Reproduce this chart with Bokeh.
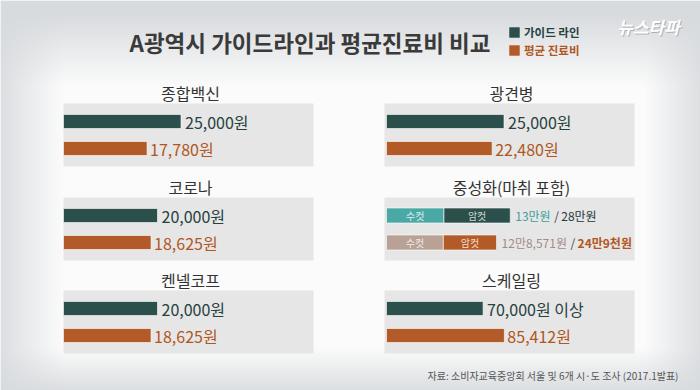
import numpy as np
from bokeh.plotting import figure
from bokeh.models import Range1d, Legend, LegendItem
from bokeh.embed import file_html
from bokeh.resources import INLINE
from bokeh.core.properties import value

# ---------------- data ----------------
TITLE = "A광역시 가이드라인과 평균진료비 비교"
SERIES = ["가이드 라인", "평균 진료비"]
PANELS = ["종합백신", "코로나", "켄넬코프", "광견병", "스케일링"]
GUIDE = [25000, 20000, 20000, 25000, 70000]
AVERAGE = [17780, 18625, 18625, 22480, 85412]
GUIDE_SUFFIX = ["원", "원", "원", "원", "원 이상"]
NEUTER_TITLE = "중성화(마취 포함)"
SEX = ["수컷", "암컷"]
NEUTER_GUIDE = [130000, 280000]
NEUTER_AVERAGE = [128571, 249000]
NEUTER_GUIDE_LABELS = ["13만원", "28만원"]
NEUTER_AVERAGE_LABELS = ["12만8,571원", "24만9천원"]
SOURCE = "자료: 소비자교육중앙회 서울 및 6개 시·도 조사 (2017.1발표)"
LOGO = "뉴스타파"

# ---------------- layout / style ----------------
W, H = 700, 390
FONT_NAME = "Noto Sans CJK KR"
FONT = value(FONT_NAME)


def Y(ry):
    return H - ry


SLOTS = {"종합백신": ("L", 0), "코로나": ("L", 1), "켄넬코프": ("L", 2),
         "광견병": ("R", 0), NEUTER_TITLE: ("R", 1), "스케일링": ("R", 2)}
SCALE_OF = {"종합백신": "vac", "코로나": "vac", "켄넬코프": "vac",
            "광견병": "vac", NEUTER_TITLE: "neut", "스케일링": "scal"}
PX_PER_WON = {"vac": 0.00470, "neut": 0.000442, "scal": 0.00138}
BOX_X = {"L": (63, 313), "R": (384, 634)}
BAR_X0 = {"L": 63, "R": 386}
BOX_TOP = [103, 197, 290]
BOX_H = 63
HEAD_DY = -11
GUIDE_DY = 18
AVG_DY = 45
BAR_H = 14

GUIDE_C = "#2b4f4b"
AVG_C = "#b35b28"
GUIDE_TXT = "#26423f"
AVG_TXT = "#b0571f"
MALE_GUIDE_C = "#4ba9a5"
MALE_AVG_C = "#b9a196"
BOX_C = "#e6e6e6"

p = figure(width=W, height=H, output_backend="svg", toolbar_location=None,
           x_range=Range1d(0, W), y_range=Range1d(0, H),
           x_axis_location=None, y_axis_location=None, min_border=0)
p.grid.visible = False
p.outline_line_color = None
p.background_fill_color = "#f6f6f6"
p.border_fill_color = "#f6f6f6"

# background gradient
xs = np.arange(W) + 0.5
ys = H - (np.arange(H) + 0.5)
XX, YY = np.meshgrid(xs, ys)
t = np.clip((85 - YY) / 72, 0, 1)
b = np.clip((YY - 348) / 42, 0, 1) * 0.9
l = np.clip((62 - XX) / 60, 0, 1) * 0.85
r = np.clip((XX - 645) / 55, 0, 1) * 0.85
d = 1 - (1 - t) * (1 - b) * (1 - l) * (1 - r)
base = np.array([251, 251, 251], dtype=float)
edge = np.array([216, 219, 222], dtype=float)
rgb = base[None, None, :] * (1 - d)[..., None] + edge[None, None, :] * d[..., None]
img = np.empty((H, W), dtype=np.uint32)
view = img.view(dtype=np.uint8).reshape((H, W, 4))
view[..., :3] = rgb.astype(np.uint8)
view[..., 3] = 255
p.image_rgba(image=[img], x=0, y=0, dw=W, dh=H)

# extra ranges: won scales per column / group
ranges = {}
for name in SLOTS:
    col, _ = SLOTS[name]
    grp = SCALE_OF[name]
    key = f"{col}_{grp}"
    if key not in ranges:
        s = PX_PER_WON[grp]
        x0 = BAR_X0[col]
        ranges[key] = Range1d(start=(0 - x0) / s, end=(W - x0) / s)
p.extra_x_ranges = ranges

# title
p.text(x=[129], y=[Y(41)], text=[TITLE], text_font=FONT, text_font_size="22.5px",
       text_font_style="bold", text_color="#3a3a3a", text_align="left",
       text_baseline="middle")

# logo
p.text(x=[648], y=[Y(26)], text=[LOGO], text_font=FONT, text_font_size="17px",
       text_font_style="bold italic", text_color="#8a9096", text_alpha=0.6,
       text_align="center", text_baseline="middle", x_offset=1, y_offset=1)
p.text(x=[648], y=[Y(26)], text=[LOGO], text_font=FONT, text_font_size="17px",
       text_font_style="bold italic", text_color="#ffffff",
       text_align="center", text_baseline="middle")

# panel boxes and headings
for name, (col, row) in SLOTS.items():
    x1, x2 = BOX_X[col]
    top = BOX_TOP[row]
    p.quad(left=[x1], right=[x2], top=[Y(top)], bottom=[Y(top + BOX_H)],
           fill_color=BOX_C, line_color=None)
    p.text(x=[(x1 + x2) / 2 + 2], y=[Y(top + HEAD_DY)], text=[name], text_font=FONT,
           text_font_size="16px", text_color="#333333", text_align="center",
           text_baseline="middle")

legend_renderers = {}
# simple panels
for name, g, a, suf in zip(PANELS, GUIDE, AVERAGE, GUIDE_SUFFIX):
    col, row = SLOTS[name]
    rn = f"{col}_{SCALE_OF[name]}"
    top = BOX_TOP[row]
    rg = p.hbar(y=[Y(top + GUIDE_DY)], left=[0], right=[g], height=BAR_H,
                fill_color=GUIDE_C, line_color="#ffffff", line_alpha=0.6,
                line_width=1, x_range_name=rn)
    ra = p.hbar(y=[Y(top + AVG_DY)], left=[0], right=[a], height=BAR_H,
                fill_color=AVG_C, line_color="#ffffff", line_alpha=0.6,
                line_width=1, x_range_name=rn)
    legend_renderers.setdefault("g", rg)
    legend_renderers.setdefault("a", ra)
    p.text(x=[g], y=[Y(top + GUIDE_DY)], text=[f"{g:,}{suf}"], text_font=FONT,
           text_font_size="16px", text_color=GUIDE_TXT, text_align="left",
           text_baseline="middle", x_offset=4, x_range_name=rn)
    p.text(x=[a], y=[Y(top + AVG_DY)], text=[f"{a:,}원"], text_font=FONT,
           text_font_size="16px", text_color=AVG_TXT, text_align="left",
           text_baseline="middle", x_offset=3, x_range_name=rn)

# neutering panel (stacked: male / female)
col, row = SLOTS[NEUTER_TITLE]
rn = f"{col}_{SCALE_OF[NEUTER_TITLE]}"
top = BOX_TOP[row]
rows = [(NEUTER_GUIDE, [MALE_GUIDE_C, GUIDE_C], ["#d6eeec", "#c9d9d7"], top + GUIDE_DY),
        (NEUTER_AVERAGE, [MALE_AVG_C, AVG_C], ["#f1e7e2", "#f6dcc9"], top + AVG_DY)]
for vals, cols, tcols, yy in rows:
    lefts = [0, vals[0]]
    rights = [vals[0], vals[1]]
    p.hbar(y=[Y(yy)] * 2, left=lefts, right=rights, height=BAR_H + 1,
           fill_color=cols, line_color="#ffffff", line_alpha=0.6, line_width=1,
           x_range_name=rn)
    p.text(x=[(lo + hi) / 2 for lo, hi in zip(lefts, rights)], y=[Y(yy)] * 2,
           text=SEX, text_font=FONT, text_font_size="10px", text_color=tcols,
           text_align="center", text_baseline="middle", x_range_name=rn)

# neutering value labels (two colored parts with slash)
yy = Y(top + GUIDE_DY)
p.text(x=[NEUTER_GUIDE[1]], y=[yy], text=[NEUTER_GUIDE_LABELS[0]], text_font=FONT,
       text_font_size="12px", text_color="#3c9f9b", text_align="left",
       text_baseline="middle", x_offset=5, x_range_name=rn)
p.text(x=[NEUTER_GUIDE[1]], y=[yy], text=["/"], text_font=FONT,
       text_font_size="12px", text_color="#444444", text_align="left",
       text_baseline="middle", x_offset=44, x_range_name=rn)
p.text(x=[NEUTER_GUIDE[1]], y=[yy], text=[NEUTER_GUIDE_LABELS[1]], text_font=FONT,
       text_font_size="12px", text_color="#26363a", text_align="left",
       text_baseline="middle", x_offset=51, x_range_name=rn)
yy = Y(top + AVG_DY)
p.text(x=[NEUTER_AVERAGE[1]], y=[yy], text=[NEUTER_AVERAGE_LABELS[0]], text_font=FONT,
       text_font_size="12px", text_color="#a28c83", text_align="left",
       text_baseline="middle", x_offset=5, x_range_name=rn)
p.text(x=[NEUTER_AVERAGE[1]], y=[yy], text=["/"], text_font=FONT,
       text_font_size="12px", text_color="#444444", text_align="left",
       text_baseline="middle", x_offset=74, x_range_name=rn)
p.text(x=[NEUTER_AVERAGE[1]], y=[yy], text=[NEUTER_AVERAGE_LABELS[1]], text_font=FONT,
       text_font_size="12px", text_font_style="bold", text_color="#b3561e",
       text_align="left", text_baseline="middle", x_offset=81, x_range_name=rn)

# source note
p.text(x=[678], y=[Y(375)], text=[SOURCE], text_font=FONT, text_font_size="10px",
       text_color="#555555", text_align="right", text_baseline="middle")

# legends (one per series to color labels differently)
for key, lab, lc, ly in [("g", SERIES[0], GUIDE_TXT, 40), ("a", SERIES[1], AVG_TXT, 58)]:
    leg = Legend(items=[LegendItem(label=lab, renderers=[legend_renderers[key]])],
                 location=(507, H - ly), padding=0, margin=0, spacing=0,
                 glyph_width=14, glyph_height=14, label_height=14, label_standoff=3,
                 label_text_font=FONT_NAME, label_text_font_size="11.5px",
                 label_text_font_style="bold", label_text_color=lc,
                 label_text_baseline="middle",
                 border_line_alpha=0, background_fill_alpha=0)
    p.add_layout(leg, "center")

open("out.html", "w").write(file_html(p, INLINE))
